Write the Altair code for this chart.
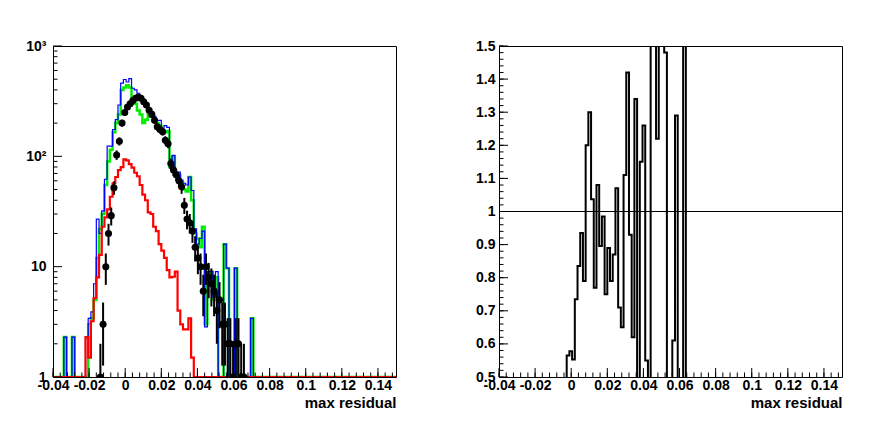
import altair as alt
import pandas as pd
import numpy as np

# ---------------- data ----------------
X0 = -0.04          # first bin low edge
BW = 0.0015         # bin width
NB = 127            # bins covering the axis range

blue_counts = [0, 0, 0, 0, 2.3, 0, 0, 2.3, 0, 0, 0, 0, 2.3, 3.4, 3.9, 7, 27, 20, 32, 62,
               124, 124, 175, 215, 292, 461, 497, 472, 507, 414, 400, 373, 336, 324, 302,
               270, 253, 230, 212, 212, 179, 190, 183, 78, 102, 72, 72, 61, 57, 55, 65, 49,
               22, 16, 18, 21, 2.85, 9, 9, 5.3, 9, 0, 0, 16, 9.7, 0, 0, 9.7, 0, 0, 0, 0, 0, 3.4]
green_counts = [0, 0, 0, 0, 2.3, 0, 0, 2.3, 0, 0, 0, 0, 0, 3, 3.4, 5, 12, 22, 30, 55,
                90, 115, 165, 200, 240, 400, 420, 440, 420, 330, 300, 260, 240, 200, 215,
                240, 230, 215, 200, 190, 170, 165, 170, 80, 100, 70, 68, 58, 50, 48, 65, 40,
                20, 18, 15, 23, 3, 8, 9, 5, 8, 0, 0, 16, 9.7, 0, 0, 9.7, 0, 0, 0, 0, 0, 3.4]
red_counts = [0, 0, 0, 0, 0, 0, 0, 0, 0, 0, 0, 0, 2.3, 1.5, 3.2, 5.2, 8, 12.8, 23, 28,
              33, 43, 57, 65, 75, 80, 94, 92, 85, 79, 71, 66, 55, 45, 40, 31, 30, 23, 21,
              16, 14, 12, 9.3, 8, 8.1, 9, 4, 3, 2.7, 2.7, 3.4, 1.5]
black_start = 17
black_counts = [1, 3, 10, 20, 29, 52, 103, 137, 200, 250, 280, 300, 320, 336, 345, 336,
                312, 292, 262, 240, 212, 185, 175, 167, 140, 130, 86, 75, 68, 60, 53, 36,
                27, 25, 21, 15, 12, 10, 6, 10, 8, 7, 6, 4, 5, 3, 3, 2, 2, 1, 2, 2, 1, 1]
ratio_start = 24
ratio_vals = [0, 0.565, 0.578, 0.553, 0.735, 0.835, 0.935, 0.79, 1.20, 1.30, 1.037, 0.77,
              1.08, 0.896, 0.985, 0.75, 0.89, 0.79, 0.87, 1.07, 0.71, 0.65, 1.11, 1.42,
              0.93, 0.62, 1.34, 0, 1.15, 1.26, 0.55, 0, 1.6, 1.6, 1.22, 1.6, 1.6, 1.48, 0, 0,
              0.61, 1.29, 0, 0, 1.6, 0]

x_major = [-0.04, -0.02, 0.0, 0.02, 0.04, 0.06, 0.08, 0.1, 0.12, 0.14]
x_minor = [round(-0.04 + 0.004 * i, 3) for i in range(48)]
ly_major = [1, 10, 100, 1000]
ly_minor = [m * d for d in (1, 10, 100) for m in range(2, 10)]
ry_major = [round(0.5 + 0.1 * i, 1) for i in range(11)]
ry_minor = [round(0.5 + 0.02 * i, 2) for i in range(51)]

# ---------------- helpers ----------------
W, H = 343, 331
FONT = "Liberation Sans"
xs = alt.Scale(domain=[-0.04, 0.15], nice=False, zero=False)
lys = alt.Scale(type="log", domain=[1, 1000], nice=False)
rys = alt.Scale(domain=[0.5, 1.5], nice=False, zero=False)

x_label_expr = ("datum.value < 0 ? '-' + format(-datum.value, '.2~f') : "
                "format(datum.value, '.2~f')")
X_AXIS = alt.Axis(values=x_major, labelExpr=x_label_expr, ticks=False, domain=False,
                  grid=False, labelFont=FONT, labelFontWeight="bold", labelFontSize=14,
                  labelColor="black", labelPadding=1, labelFlush=False,
                  title="max residual", titleFont=FONT, titleFontWeight="bold",
                  titleFontSize=15, titleColor="black", titleAnchor="end",
                  titlePadding=3)
LY_AXIS = alt.Axis(values=ly_major,
                   labelExpr="datum.value == 1 ? '1' : datum.value == 10 ? '10' : "
                             "datum.value == 100 ? '10²' : '10³'",
                   ticks=False, domain=False, grid=False, labelFont=FONT,
                   labelFontWeight="bold", labelFontSize=14, labelColor="black",
                   labelPadding=7, title=None, minExtent=40, maxExtent=40)
RY_AXIS = alt.Axis(values=ry_major, format=".1~f", ticks=False, domain=False, grid=False,
                   labelFont=FONT, labelFontWeight="bold", labelFontSize=14,
                   labelColor="black", labelPadding=4, title=None,
                   minExtent=30, maxExtent=30)


def steps(vals, start=0, floor=None):
    v = list(vals) + [0] * (NB - start - len(vals))
    edges = [X0 + BW * (start + i) for i in range(len(v) + 1)]
    ys = v + [v[-1]]
    if floor is not None:
        ys = [max(a, floor) for a in ys]
    return pd.DataFrame({"x": edges, "y": ys})


def step_layer(df, color, sw, yscale, yaxis):
    return alt.Chart(df).mark_line(interpolate="step-after", color=color,
                                   strokeWidth=sw, clip=True).encode(
        x=alt.X("x:Q", scale=xs, axis=X_AXIS),
        y=alt.Y("y:Q", scale=yscale, axis=yaxis),
    )


def xticks(values, length):
    return alt.Chart(pd.DataFrame({"x": values})).mark_rule(
        color="black", strokeWidth=1).encode(
        x=alt.X("x:Q", scale=xs, axis=X_AXIS),
        y=alt.value(H), y2=alt.value(H - length))


def yticks(values, length, yscale, yaxis):
    return alt.Chart(pd.DataFrame({"y": values})).mark_rule(
        color="black", strokeWidth=1).encode(
        y=alt.Y("y:Q", scale=yscale, axis=yaxis),
        x=alt.value(0), x2=alt.value(length))


# ---------------- left panel ----------------
green_l = step_layer(steps(green_counts, floor=1), "#00ee00", 2.5, lys, LY_AXIS)
blue_l = step_layer(steps(blue_counts, floor=1), "#0000ff", 1.2, lys, LY_AXIS)
red_l = step_layer(steps(red_counts, floor=1), "#ff0000", 2.2, lys, LY_AXIS)

bc = np.array(black_counts, dtype=float)
bx = X0 + BW * (np.arange(len(bc)) + black_start + 0.5)
black_df = pd.DataFrame({
    "x": bx, "y": bc,
    "lo": np.maximum(bc - np.sqrt(bc), 1.0), "hi": bc + np.sqrt(bc),
    "xl": bx - BW / 2, "xr": bx + BW / 2,
})
black_v = alt.Chart(black_df).mark_rule(color="black", strokeWidth=2, clip=True).encode(
    x=alt.X("x:Q", scale=xs, axis=X_AXIS),
    y=alt.Y("lo:Q", scale=lys, axis=LY_AXIS), y2="hi:Q")
black_h = alt.Chart(black_df).mark_rule(color="black", strokeWidth=2, clip=True).encode(
    x=alt.X("xl:Q", scale=xs, axis=X_AXIS), x2="xr:Q",
    y=alt.Y("y:Q", scale=lys, axis=LY_AXIS))
black_p = alt.Chart(black_df).mark_circle(color="black", size=50, opacity=1, clip=True).encode(
    x=alt.X("x:Q", scale=xs, axis=X_AXIS),
    y=alt.Y("y:Q", scale=lys, axis=LY_AXIS))

left = alt.layer(
    green_l, blue_l, red_l, black_v, black_h, black_p,
    xticks(x_major, 9), xticks(x_minor, 4.5),
    yticks(ly_major, 9, lys, LY_AXIS), yticks(ly_minor, 4.5, lys, LY_AXIS),
).properties(width=W, height=H)

# ---------------- right panel ----------------
ratio_l = step_layer(steps(ratio_vals, start=ratio_start), "black", 2, rys, RY_AXIS)
one_line = alt.Chart(pd.DataFrame({"y": [1.0]})).mark_rule(color="black", strokeWidth=1).encode(
    y=alt.Y("y:Q", scale=rys, axis=RY_AXIS))

right = alt.layer(
    ratio_l, one_line,
    xticks(x_major, 9), xticks(x_minor, 4.5),
    yticks(ry_major, 9, rys, RY_AXIS), yticks(ry_minor, 4.5, rys, RY_AXIS),
).properties(width=W, height=H)

chart = alt.hconcat(left, right, spacing=71).properties(
    padding={"left": 4, "top": 30, "right": 5, "bottom": 5},
    background="white",
).configure_view(stroke="black", strokeWidth=1)

chart.save("out.html", embed_options={"renderer": "svg", "actions": False})
